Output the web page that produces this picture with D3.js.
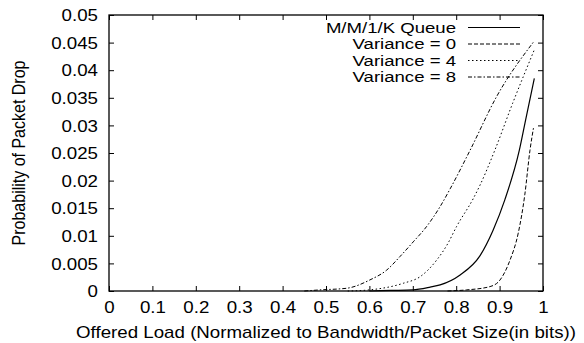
<!DOCTYPE html>
<html>
<head>
<meta charset="utf-8">
<script src="https://cdn.jsdelivr.net/npm/d3@7"></script>
<style>
  body { margin: 0; background: #fff; }
  svg { display: block; }
  text { font-family: "Liberation Sans", Arial, sans-serif; fill: #000; }
</style>
</head>
<body>
<div id="chart"></div>
<script>
// Chart data
const xTicks = [0, 0.1, 0.2, 0.3, 0.4, 0.5, 0.6, 0.7, 0.8, 0.9, 1];
const yTicks = [0, 0.005, 0.01, 0.015, 0.02, 0.025, 0.03, 0.035, 0.04, 0.045, 0.05];

const seriesNames = ['M/M/1/K Queue', 'Variance = 0', 'Variance = 4', 'Variance = 8'];

const mm1kLoad = [0.60, 0.65, 0.70, 0.74, 0.763, 0.809, 0.855, 0.885, 0.912, 0.9455, 0.96, 0.98];
const mm1kDrop = [0, 0.0001, 0.0002, 0.0007, 0.0011, 0.0029, 0.0064, 0.011, 0.0165, 0.0255, 0.031, 0.0385];

const var0Load = [0.78, 0.824, 0.878, 0.901, 0.924, 0.943, 0.958, 0.97, 0.978];
const var0Drop = [0, 0.0002, 0.0008, 0.002, 0.0056, 0.0105, 0.0174, 0.0255, 0.0295];

const var4Load = [0.55, 0.60, 0.678, 0.717, 0.755, 0.78, 0.801, 0.839, 0.855, 0.889, 0.93, 0.98];
const var4Drop = [0, 0.0002, 0.0014, 0.0026, 0.0056, 0.0085, 0.0117, 0.0167, 0.0192, 0.0255, 0.034, 0.0437];

const var8Load = [0.45, 0.486, 0.548, 0.601, 0.64, 0.67, 0.701, 0.732, 0.763, 0.786, 0.832, 0.893, 0.979];
const var8Drop = [0, 0.0002, 0.0005, 0.002, 0.0038, 0.0062, 0.0089, 0.0117, 0.0153, 0.0185, 0.0255, 0.0352, 0.0452];

// the reference was stretched sideways, so text gets a horizontal scale
const stretch = 1.17;

const width = 584;
const height = 343;
const margin = { top: 15, right: 41, bottom: 52, left: 109 };

const svg = d3.select('#chart')
    .append('svg')
    .attr('width', width)
    .attr('height', height);

const x = d3.scaleLinear().domain([0, 1]).range([margin.left, width - margin.right]);
const y = d3.scaleLinear().domain([0, 0.05]).range([height - margin.bottom, margin.top]);

const fmt = d => d === 0 ? '0' : String(+d.toFixed(3));

// axes, ticks point inwards like gnuplot
const bottomAxis = svg.append('g')
    .attr('transform', `translate(0,${y(0)})`)
    .call(d3.axisBottom(x).tickValues(xTicks).tickSize(-5).tickPadding(0).tickFormat(fmt));
bottomAxis.selectAll('text')
    .attr('y', 22)
    .attr('dy', 0)
    .attr('transform', `scale(${stretch},1)`)
    .style('font-size', '16px');

svg.append('g')
    .attr('transform', `translate(0,${y(0.05)})`)
    .call(d3.axisTop(x).tickValues(xTicks).tickSize(-5).tickFormat(''));

const leftAxis = svg.append('g')
    .attr('transform', `translate(${x(0)},0)`)
    .call(d3.axisLeft(y).tickValues(yTicks).tickSize(-5).tickFormat(fmt));
leftAxis.selectAll('text')
    .attr('x', -11 / stretch)
    .attr('dy', '0.35em')
    .attr('transform', `scale(${stretch},1)`)
    .style('font-size', '16px');

svg.append('g')
    .attr('transform', `translate(${x(1)},0)`)
    .call(d3.axisRight(y).tickValues(yTicks).tickSize(-5).tickFormat(''));

svg.selectAll('.domain').remove();
svg.selectAll('.tick line').attr('stroke', '#000').attr('stroke-width', 1);

// plot border
svg.append('rect')
    .attr('x', x(0))
    .attr('y', y(0.05))
    .attr('width', x(1) - x(0))
    .attr('height', y(0) - y(0.05))
    .attr('fill', 'none')
    .attr('stroke', '#000')
    .attr('stroke-width', 1.3);

// axis titles
svg.append('text')
    .attr('transform', `translate(${(x(0) + x(1)) / 2},338) scale(${stretch},1)`)
    .attr('text-anchor', 'middle')
    .style('font-size', '16px')
    .text('Offered Load (Normalized to Bandwidth/Packet Size(in bits))');

svg.append('text')
    .attr('transform', `translate(25,${(y(0) + y(0.05)) / 2}) scale(${stretch},1) rotate(-90)`)
    .attr('text-anchor', 'middle')
    .style('font-size', '16px')
    .text('Probability of Packet Drop');

// curves
const series = [
    { name: seriesNames[0], load: mm1kLoad, drop: mm1kDrop, dash: null, width: 1.2 },
    { name: seriesNames[1], load: var0Load, drop: var0Drop, dash: '4,2', width: 1 },
    { name: seriesNames[2], load: var4Load, drop: var4Drop, dash: '1.5,2.5', width: 1 },
    { name: seriesNames[3], load: var8Load, drop: var8Drop, dash: '4,2,1.5,2', width: 1 }
];

const line = d3.line()
    .x(d => x(d[0]))
    .y(d => y(d[1]))
    .curve(d3.curveMonotoneX);

series.forEach(s => {
    svg.append('path')
        .datum(s.load.map((v, i) => [v, s.drop[i]]))
        .attr('d', line)
        .attr('fill', 'none')
        .attr('stroke', '#000')
        .attr('stroke-width', s.width)
        .attr('stroke-dasharray', s.dash);
});

// legend
const legend = svg.append('g');
series.forEach((s, i) => {
    const ly = 27.5 + i * 16.5;
    legend.append('text')
        .attr('transform', `translate(456,${ly}) scale(1.24,1)`)
        .attr('dy', '0.35em')
        .attr('text-anchor', 'end')
        .style('font-size', '15px')
        .text(s.name);
    legend.append('line')
        .attr('x1', 468)
        .attr('x2', 520)
        .attr('y1', ly)
        .attr('y2', ly)
        .attr('stroke', '#000')
        .attr('stroke-width', s.width)
        .attr('stroke-dasharray', s.dash);
});
</script>
</body>
</html>
